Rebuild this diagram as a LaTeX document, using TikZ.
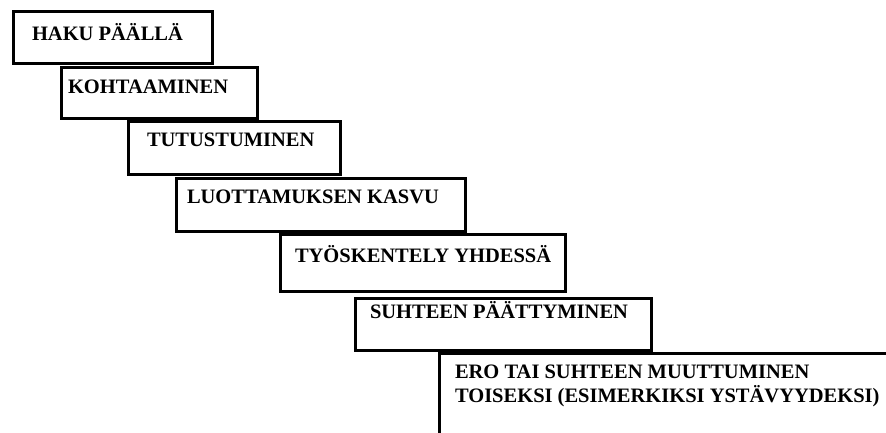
\documentclass[tikz,border=0pt]{standalone}
\usepackage{fontspec}
\setmainfont{Liberation Serif}
\begin{document}
\begin{tikzpicture}[x=1pt,y=-1pt,
  stepbox/.style={draw=black, line width=3pt, fill=white, inner sep=0pt, outer sep=0pt, anchor=north west},
  label/.style={inner sep=0pt, outer sep=0pt, anchor=base west, font=\bfseries\fontsize{20.5}{24}\selectfont}]
\path[use as bounding box, fill=white] (0,0) rectangle (886,432);
\node[stepbox, minimum width=198.5pt, minimum height=52pt] (b1) at (13.5,11) {};
\node[stepbox, minimum width=196.7pt, minimum height=51pt] (b2) at (61,67) {};
\node[stepbox, minimum width=212pt, minimum height=53pt] (b3) at (128.5,121) {};
\node[stepbox, minimum width=288.3pt, minimum height=53.5pt] (b4) at (176.7,178) {};
\node[stepbox, minimum width=285.4pt, minimum height=57.2pt] (b5) at (280.3,234.5) {};
\node[stepbox, minimum width=296pt, minimum height=52pt] (b6) at (355.3,298) {};
\begin{scope}
\clip (0,0) rectangle (886,432);
\node[stepbox, minimum width=500pt, minimum height=150pt] (b7) at (439.5,353.3) {};
\end{scope}
\node[label] (t1) at (32,40) {HAKU PÄÄLLÄ};
\node[label] (t2) at (68,93) {KOHTAAMINEN};
\node[label] (t3) at (147,146) {TUTUSTUMINEN};
\node[label] (t4) at (187,203) {LUOTTAMUKSEN KASVU};
\node[label] (t5) at (295,262) {TYÖSKENTELY YHDESSÄ};
\node[label] (t6) at (370,318) {SUHTEEN PÄÄTTYMINEN};
\node[label] (t7a) at (455,378) {ERO TAI SUHTEEN MUUTTUMINEN};
\node[label] (t7b) at (455,402) {TOISEKSI (ESIMERKIKSI YSTÄVYYDEKSI)};
\end{tikzpicture}
\end{document}
